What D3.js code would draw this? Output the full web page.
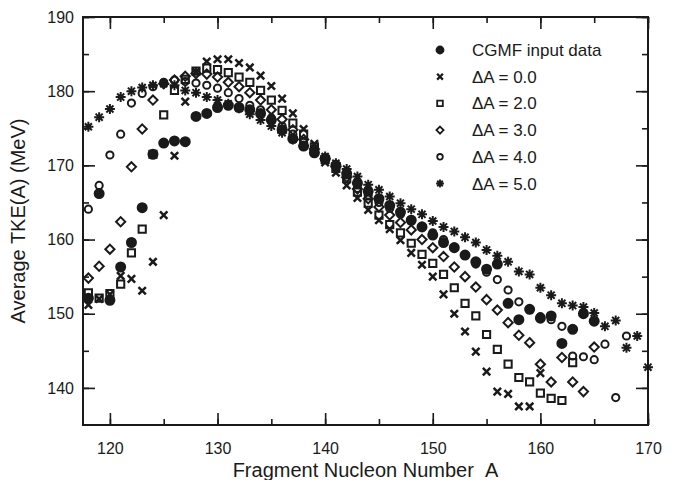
<!DOCTYPE html>
<html>
<head>
<meta charset="utf-8">
<script src="https://cdn.jsdelivr.net/npm/d3@7"></script>
<style>
  body { margin: 0; background: #fff; }
  svg { display: block; font-family: "Liberation Sans", Arial, Helvetica, sans-serif; }
</style>
</head>
<body>
<div id="chart"></div>
<script>
// TKE(A) vs fragment mass: CGMF input data and smeared versions (dA = 0..5)

const xTicks = [120, 130, 140, 150, 160, 170];
const yTicks = [140, 150, 160, 170, 180, 190];

// first mass number of each series, values follow A = start, start+1, ...
const cgmfStart = 118;
const cgmfTke = [152.1, 166.2, 151.8, 156.3, 159.6, 164.3, 171.5, 173.0, 173.3, 173.2,
    176.6, 177.0, 177.8, 178.1, 177.8, 177.5, 177.0, 176.1, 174.8, 173.6,
    172.6, 171.7, 170.9, 170.0, 168.9, 167.6, 166.5, 165.5, 164.6, 163.7,
    162.6, 161.7, 160.6, 159.6, 158.9, 157.9, 157.0, 156.0, 156.7, 151.4,
    149.2, 150.6, 149.4, 149.7, 146.0, 147.9, 150.0, 149.0];

const dA0Start = 118;
const dA0Tke = [151.2, 152.0, 152.6, 155.1, 154.7, 153.1, 157.0, 163.3, 171.3, 178.6,
    182.6, 184.0, 184.3, 184.3, 183.8, 183.2, 182.1, 180.7, 179.0, 177.0,
    174.9, 172.9, 170.4, 169.0, 167.3, 165.6, 164.0, 162.6, 161.4, 159.9,
    158.2, 156.6, 155.0, 152.6, 150.0, 147.6, 144.9, 142.2, 139.5, 139.2,
    137.5, 137.5, 142.0];

const dA2Start = 118;
const dA2Tke = [152.8, 152.1, 152.7, 154.0, 158.2, 161.4, 171.5, 176.8, 180.1, 181.6,
    182.7, 183.1, 182.9, 182.5, 181.9, 181.2, 180.1, 178.8, 177.4, 175.7,
    174.2, 172.5, 170.8, 169.6, 168.2, 166.4, 164.9, 163.3, 162.0, 160.9,
    159.5, 158.0, 156.8, 155.3, 153.5, 151.4, 149.7, 147.2, 145.2, 143.2,
    141.4, 140.8, 139.3, 138.6, 138.3, 143.4];

const dA3Start = 118;
const dA3Tke = [154.8, 156.4, 158.7, 162.4, 169.8, 174.9, 178.8, 181.0, 181.5, 182.0,
    182.4, 182.3, 181.9, 181.2, 180.6, 179.8, 178.8, 177.5, 176.2, 174.8,
    173.5, 172.2, 170.9, 169.8, 168.4, 166.8, 165.5, 164.4, 163.3, 162.3,
    161.3, 160.0, 158.9, 157.7, 156.3, 155.0, 153.6, 151.9, 150.5, 148.8,
    147.1, 146.1, 143.2, 140.8, 144.1, 140.8, 139.5, 145.5];

const dA4Start = 118;
const dA4Tke = [164.1, 167.3, 171.4, 174.2, 178.4, 179.7, 180.6, 181.2, 181.5, 181.3,
    181.1, 180.8, 180.4, 179.8, 179.0, 178.1, 177.5, 176.4, 175.3, 174.2,
    173.1, 172.0, 171.0, 169.9, 168.7, 166.9, 166.0, 165.0, 164.2, 163.4,
    162.7, 161.8, 160.9, 160.0, 159.0, 157.9, 156.7, 155.6, 154.6, 153.2,
    151.6, 150.6, 149.6, 149.2, 148.3, 144.3, 144.2, 143.8, 145.9, 138.7,
    147.0];

const dA5Start = 118;
const dA5Tke = [175.2, 176.5, 177.6, 179.2, 180.0, 180.5, 180.8, 181.0, 180.8, 180.1,
    179.8, 179.2, 178.8, 178.3, 177.7, 176.9, 176.1, 175.3, 174.4, 173.5,
    172.6, 171.7, 171.2, 170.3, 169.5, 168.5, 167.4, 166.7, 165.8, 164.9,
    164.1, 163.4, 162.5, 161.7, 161.1, 160.3, 159.6, 158.6, 157.8, 157.0,
    155.7, 155.3, 153.5, 152.5, 151.4, 151.1, 150.9, 150.1, 148.3, 149.1,
    145.4, 147.0, 142.8];

const seriesNames = ['CGMF input data', '\u0394A = 0.0', '\u0394A = 2.0',
    '\u0394A = 3.0', '\u0394A = 4.0', '\u0394A = 5.0'];

// marker paths, k scales them (legend uses smaller ones)
const markers = {
    dot: k => `M${4.5 * k},0A${4.5 * k},${4.5 * k} 0 1,1 ${-4.5 * k},0A${4.5 * k},${4.5 * k} 0 1,1 ${4.5 * k},0Z`,
    cross: k => `M${-3.7 * k},${-3.7 * k}L${3.7 * k},${3.7 * k}M${-3.7 * k},${3.7 * k}L${3.7 * k},${-3.7 * k}`,
    square: k => `M${-3.6 * k},${-3.6 * k}H${3.6 * k}V${3.6 * k}H${-3.6 * k}Z`,
    diamond: k => `M0,${-4.6 * k}L${4.6 * k},0L0,${4.6 * k}L${-4.6 * k},0Z`,
    ring: k => `M${3.6 * k},0A${3.6 * k},${3.6 * k} 0 1,1 ${-3.6 * k},0A${3.6 * k},${3.6 * k} 0 1,1 ${3.6 * k},0Z`,
    star: k => {
        const r = 5 * k, d = r * Math.SQRT1_2;
        return `M${-r},0L${r},0M0,${-r}L0,${r}M${-d},${-d}L${d},${d}M${-d},${d}L${d},${-d}`;
    }
};

const series = [
    { name: seriesNames[0], start: cgmfStart, values: cgmfTke, marker: 'dot', filled: true },
    { name: seriesNames[1], start: dA0Start, values: dA0Tke, marker: 'cross', filled: false },
    { name: seriesNames[2], start: dA2Start, values: dA2Tke, marker: 'square', filled: false },
    { name: seriesNames[3], start: dA3Start, values: dA3Tke, marker: 'diamond', filled: false },
    { name: seriesNames[4], start: dA4Start, values: dA4Tke, marker: 'ring', filled: false },
    { name: seriesNames[5], start: dA5Start, values: dA5Tke, marker: 'star', filled: false }
];

const strokeFor = m => (m === 'cross' ? 2.5 : m === 'star' ? 2 : 2);

function renderChart(containerId) {
    const container = d3.select(`#${containerId}`);
    container.selectAll('*').remove();

    const margin = { top: 17, right: 31, bottom: 55, left: 83 };
    const width = 679 - margin.left - margin.right;
    const height = 480 - margin.top - margin.bottom;
    const ink = '#1a1a1a';

    const svg = container
        .append('svg')
        .attr('width', 679)
        .attr('height', 480)
        .append('g')
        .attr('transform', `translate(${margin.left},${margin.top})`);

    const x = d3.scaleLinear().domain([117.5, 170]).range([0, width]);
    const y = d3.scaleLinear().domain([135, 190]).range([height, 0]);

    const xMinor = [120, 125, 130, 135, 140, 145, 150, 155, 160, 165, 170];
    const yMinor = [140, 145, 150, 155, 160, 165, 170, 175, 180, 185, 190];

    // inward ticks on all four sides
    const axes = [
        { gen: d3.axisBottom, scale: x, pos: `translate(0,${height})`, major: xTicks, minor: xMinor, labels: true, pad: 18 },
        { gen: d3.axisTop, scale: x, pos: 'translate(0,0)', major: xTicks, minor: xMinor, labels: false },
        { gen: d3.axisLeft, scale: y, pos: 'translate(0,0)', major: yTicks, minor: yMinor, labels: true, pad: 9 },
        { gen: d3.axisRight, scale: y, pos: `translate(${width},0)`, major: yTicks, minor: yMinor, labels: false }
    ];

    axes.forEach(a => {
        svg.append('g')
            .attr('transform', a.pos)
            .call(a.gen(a.scale).tickValues(a.minor).tickSize(-6).tickFormat(''))
            .call(g => g.select('.domain').remove());
        const g = svg.append('g')
            .attr('transform', a.pos)
            .call(a.gen(a.scale).tickValues(a.major).tickSize(-12)
                .tickPadding(a.pad || 3)
                .tickFormat(a.labels ? d3.format('d') : ''));
        g.select('.domain').remove();
        g.selectAll('text')
            .attr('fill', ink)
            .style('font-size', '16px');
    });
    svg.selectAll('.tick line').attr('stroke', ink).attr('stroke-width', 1.6);

    svg.append('rect')
        .attr('width', width)
        .attr('height', height)
        .attr('fill', 'none')
        .attr('stroke', ink)
        .attr('stroke-width', 2);

    svg.append('text')
        .attr('x', width / 2)
        .attr('y', height + 52)
        .attr('text-anchor', 'middle')
        .attr('fill', ink)
        .style('font-size', '20px')
        .text('Fragment Nucleon Number\u00a0\u00a0A');

    svg.append('text')
        .attr('transform', 'rotate(-90)')
        .attr('x', -height / 2)
        .attr('y', -margin.left + 25)
        .attr('text-anchor', 'middle')
        .attr('fill', ink)
        .style('font-size', '20px')
        .text('Average TKE(A) (MeV)');

    // data points, drawn in order so the filled CGMF dots sit under the others
    series.forEach(s => {
        svg.append('g')
            .selectAll('path')
            .data(s.values.map((v, i) => ({ a: s.start + i, tke: v })))
            .enter()
            .append('path')
            .attr('transform', d => `translate(${x(d.a)},${y(d.tke)})`)
            .attr('d', markers[s.marker](1))
            .attr('fill', s.filled ? ink : 'none')
            .attr('stroke', ink)
            .attr('stroke-width', strokeFor(s.marker));
    });

    // legend
    const legend = svg.append('g').attr('transform', `translate(${440 - margin.left},${50 - margin.top})`);
    series.forEach((s, i) => {
        const row = legend.append('g').attr('transform', `translate(0,${i * 26.7})`);
        row.append('path')
            .attr('d', markers[s.marker](0.78))
            .attr('fill', s.filled ? ink : 'none')
            .attr('stroke', ink)
            .attr('stroke-width', strokeFor(s.marker) * 0.9);
        row.append('text')
            .attr('x', 32)
            .attr('y', 6)
            .attr('fill', ink)
            .style('font-size', '17px')
            .text(s.name);
    });
}

renderChart('chart');
</script>
</body>
</html>
